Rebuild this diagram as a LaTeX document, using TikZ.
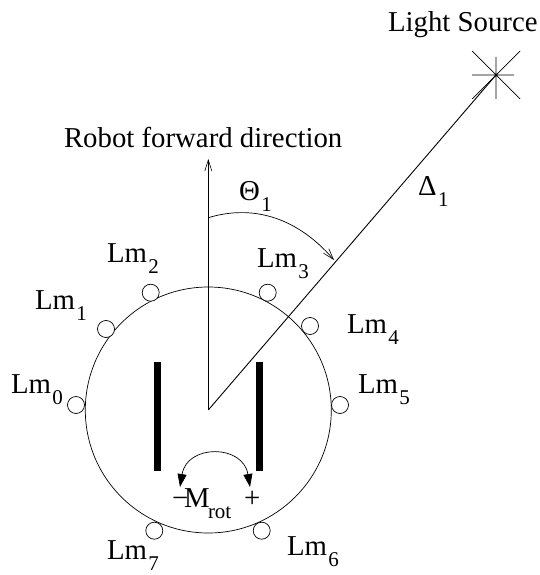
\documentclass[tikz,border=0pt]{standalone}
\usepackage{fontspec}
\setmainfont{Liberation Serif}
\usetikzlibrary{arrows.meta}
\newcommand{\subsc}[1]{\hspace{1.5pt}\raisebox{-11.5pt}{\fontsize{21}{21}\selectfont #1}}
\tikzset{
  lab/.style={anchor=base west,inner sep=0pt,outer sep=0pt,font=\fontsize{28.8}{29}\selectfont},
  lamp/.style={circle,draw=black,fill=white,line width=0.7pt,minimum size=17pt,inner sep=0pt},
  ln/.style={line width=0.7pt,black},
  bar/.style={fill=black,draw=none},
  openhead/.style={-{Straight Barb[length=11pt,width=7pt,line width=0.6pt]}},
  solidhead/.style={{Triangle[length=13pt,width=9pt]}-{Triangle[length=13pt,width=9pt]}},
}
\begin{document}
\begin{tikzpicture}[x=1pt,y=-1pt]
\useasboundingbox (0,0) rectangle (539,575);
% body
\node[circle,draw=black,line width=0.7pt,minimum size=246pt,inner sep=0pt] (body) at (208.3,410) {};
\coordinate (c) at (208.3,410);
\coordinate (fwd) at (208.3,159);
\coordinate (light) at (496,75);
% lamps
\node[lamp] (s0) at (76,405) {};
\node[lamp] (s1) at (106,329) {};
\node[lamp] (s2) at (150.7,292.7) {};
\node[lamp] (s3) at (267.7,292.7) {};
\node[lamp] (s4) at (310,326) {};
\node[lamp] (s5) at (340,405) {};
\node[lamp] (s6) at (261.7,530.7) {};
\node[lamp] (s7) at (154.3,530.7) {};
% wheels
\fill[bar] (153.7,361.7) rectangle (161,471);
\fill[bar] (255.7,361.7) rectangle (263,471);
% direction lines
\draw[ln,openhead] (c) -- (fwd);
\draw[line width=0.9pt] (c) -- (light);
% star
\coordinate (sN) at (496,57); \coordinate (sS) at (496,99);
\coordinate (sW) at (472,75); \coordinate (sE) at (514,75);
\coordinate (sNW) at (472,51); \coordinate (sSE) at (520,99);
\coordinate (sNE) at (520,51); \coordinate (sSW) at (472,99);
\draw[ln] (sN) -- (sS) (sW) -- (sE) (sNW) -- (sSE) (sNE) -- (sSW);
% angle arc
\coordinate (a0) at (208.3,217.7);
\coordinate (a1) at (334,260);
\draw[ln,openhead] (a0) .. controls (250,205) and (295,215) .. (a1);
% rotation arc
\coordinate (r0) at (180,487);
\coordinate (r1) at (250,487);
\draw[ln,solidhead] (r0) .. controls (187,444) and (243,444) .. (r1);
% labels
\node[lab] (tLight) at (388,32) {Light Source};
\node[lab] (tFwd) at (64,147) {Robot forward direction};
\node[lab] (tTheta) at (239,200) {Θ\subsc{1}};
\node[lab] (tDelta) at (418,195) {Δ\subsc{1}};
\node[lab] (l0) at (11,393) {Lm\subsc{0}};
\node[lab] (l1) at (35,309) {Lm\subsc{1}};
\node[lab] (l2) at (107,262) {Lm\subsc{2}};
\node[lab] (l3) at (257,267) {Lm\subsc{3}};
\node[lab] (l4) at (347,333) {Lm\subsc{4}};
\node[lab] (l5) at (358,393) {Lm\subsc{5}};
\node[lab] (l6) at (287,555) {Lm\subsc{6}};
\node[lab] (l7) at (107,559) {Lm\subsc{7}};
\node[lab] (tMinus) at (172,507) {−};
\node[lab] (tM) at (184,507) {M};
\node[lab,font=\fontsize{21}{21}\selectfont] (tRot) at (208,518) {rot};
\node[lab] (tPlus) at (244,507) {+};
\end{tikzpicture}
\end{document}
